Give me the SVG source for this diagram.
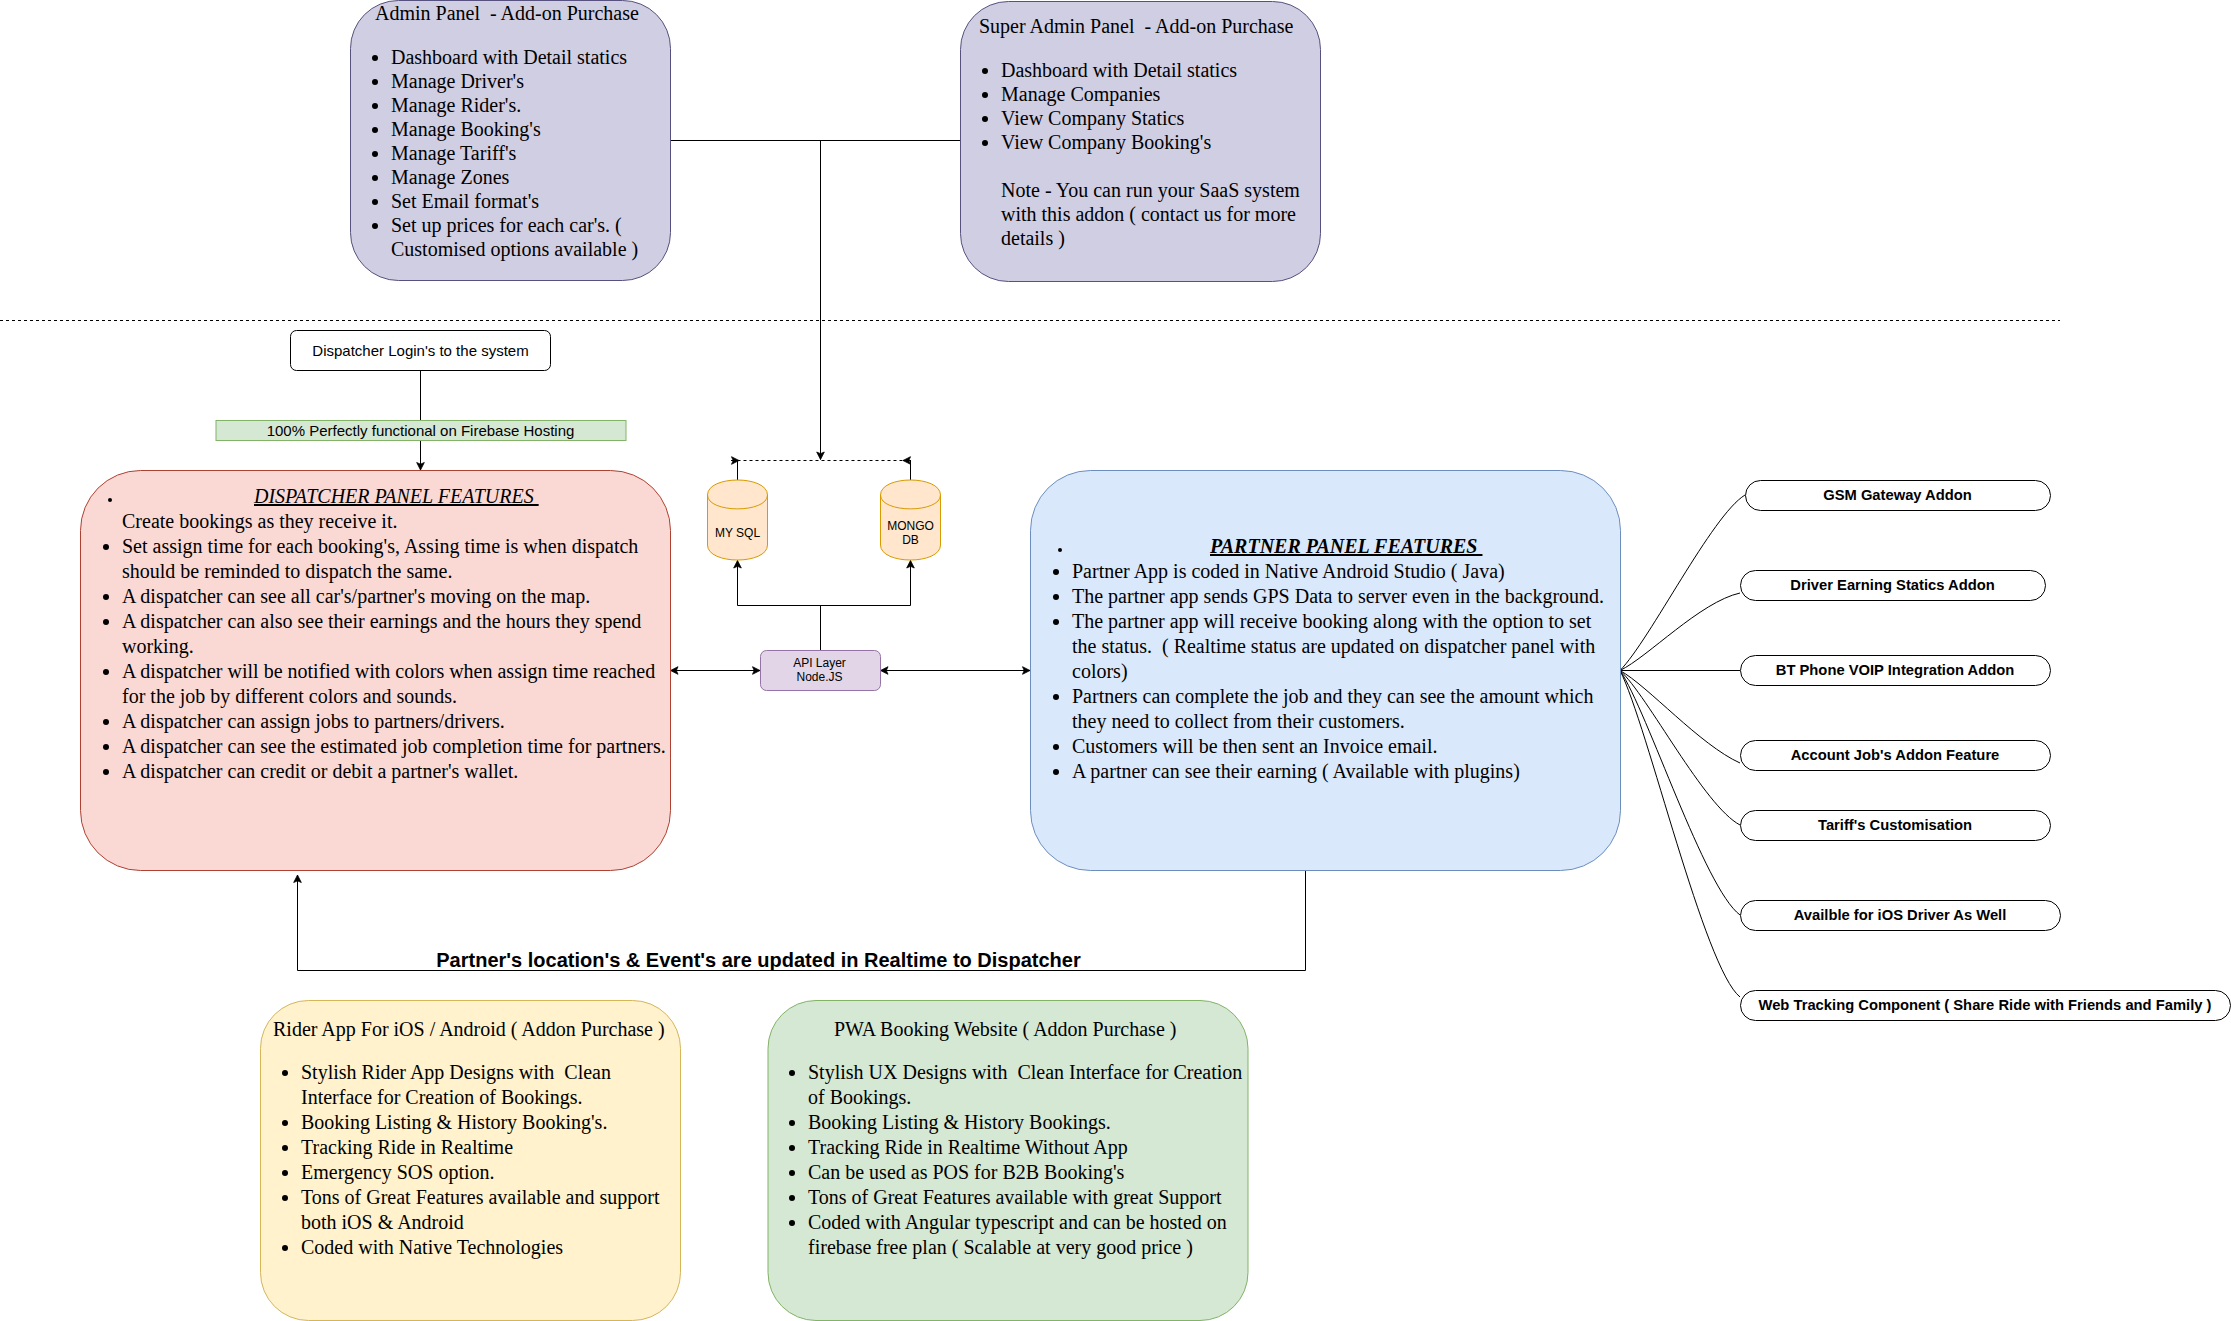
<svg xmlns="http://www.w3.org/2000/svg" width="2231" height="1321" viewBox="0 0 2231 1321">
<style>
text{white-space:pre;fill:#000}
.s{font:20px "Liberation Serif","Times New Roman",serif}
.t{font:italic 20px "Liberation Serif","Times New Roman",serif;text-decoration:underline;text-decoration-thickness:2px}
.h{font:15px "Liberation Sans",Arial,sans-serif;text-anchor:middle}
.m{font:12px "Liberation Sans",Arial,sans-serif;text-anchor:middle}
.b{font:bold 14.75px "Liberation Sans",Arial,sans-serif;text-anchor:middle}
.l{font:bold 20px "Liberation Sans",Arial,sans-serif;text-anchor:middle}
.c{fill:none;stroke:#000;stroke-width:1}
.d{fill:none;stroke:#000;stroke-width:1;stroke-dasharray:3 3}
.a{marker-end:url(#arrow)}
.ab{marker-start:url(#arrowS);marker-end:url(#arrow)}
.p{fill:#fff;stroke:#000;stroke-width:1}
.bu{fill:#000}
</style>
<defs>
<marker id="arrow" markerUnits="userSpaceOnUse" markerWidth="10" markerHeight="10" refX="8" refY="4" orient="auto" overflow="visible"><path d="M0.5 0.2L8 4L0.5 7.8L2.2 4Z" fill="#000" stroke="#000" stroke-width="0.8"/></marker>
<marker id="arrowS" markerUnits="userSpaceOnUse" markerWidth="10" markerHeight="10" refX="0" refY="4" orient="auto" overflow="visible"><path d="M7.5 0.2L0 4L7.5 7.8L5.8 4Z" fill="#000" stroke="#000" stroke-width="0.8"/></marker>
</defs>

<g id="connectors">
<path class="d" d="M0 320.5H2060"/>
<path class="c" d="M670 140.5H960"/>
<path class="c a" d="M820.5 140V459.5"/>
<path class="d" d="M737.5 460.5H910.5"/>
<path class="c" d="M737.5 480V460"/>
<path class="c" d="M910.5 480V460"/>
<path class="c a" d="M731 460.5H739"/>
<path class="c a" d="M911 460.5H903"/>
<path class="c" d="M420.5 370V420"/>
<path class="c a" d="M420.5 440V470"/>
<path class="c" d="M820.5 650V605"/>
<path class="c a" d="M737.5 605.5H737.5V560.5"/>
<path class="c a" d="M737.5 605.5H910.5V560.5"/>
<path class="c ab" d="M670.5 670.5H760"/>
<path class="c ab" d="M880.5 670.5H1030"/>
<path class="c a" d="M1305.5 870V970.5H297.5V875"/>
<path class="c" d="M1620 670.5C1650 640 1712 515 1745 495"/>
<path class="c" d="M1620 670.5C1648 657 1700 602 1740 593"/>
<path class="c" d="M1620 670.5H1740"/>
<path class="c" d="M1620 670.5C1648 686 1700 745 1740 763"/>
<path class="c" d="M1620 670.5C1648 696 1704 806 1740 825"/>
<path class="c" d="M1620 670.5C1648 712 1704 888 1740 915"/>
<path class="c" d="M1620 670.5C1648 726 1704 968 1740 997"/>
</g>

<g id="admin-panel">
<rect x="350.5" y="0.5" width="320" height="280" rx="48" fill="#d0cee2" stroke="#56517e"/>
<text class="s" x="375" y="20">Admin Panel  - Add-on Purchase</text>
<g class="bu"><circle cx="375" cy="58" r="3"/><circle cx="375" cy="82" r="3"/><circle cx="375" cy="106" r="3"/><circle cx="375" cy="130" r="3"/><circle cx="375" cy="154" r="3"/><circle cx="375" cy="178" r="3"/><circle cx="375" cy="202" r="3"/><circle cx="375" cy="226" r="3"/></g>
<text class="s" x="391" y="64">Dashboard with Detail statics</text>
<text class="s" x="391" y="88">Manage Driver's</text>
<text class="s" x="391" y="112">Manage Rider's.</text>
<text class="s" x="391" y="136">Manage Booking's</text>
<text class="s" x="391" y="160">Manage Tariff's</text>
<text class="s" x="391" y="184">Manage Zones</text>
<text class="s" x="391" y="208">Set Email format's</text>
<text class="s" x="391" y="232">Set up prices for each car's. (</text>
<text class="s" x="391" y="256">Customised options available )</text>
</g>

<g id="super-admin-panel">
<rect x="960.5" y="1.5" width="360" height="280" rx="48" fill="#d0cee2" stroke="#56517e"/>
<text class="s" x="979" y="33">Super Admin Panel  - Add-on Purchase</text>
<g class="bu"><circle cx="985" cy="71" r="3"/><circle cx="985" cy="95" r="3"/><circle cx="985" cy="119" r="3"/><circle cx="985" cy="143" r="3"/></g>
<text class="s" x="1001" y="77">Dashboard with Detail statics</text>
<text class="s" x="1001" y="101">Manage Companies</text>
<text class="s" x="1001" y="125">View Company Statics</text>
<text class="s" x="1001" y="149">View Company Booking's</text>
<text class="s" x="1001" y="197">Note - You can run your SaaS system</text>
<text class="s" x="1001" y="221">with this addon ( contact us for more</text>
<text class="s" x="1001" y="245">details )</text>
</g>

<g id="dispatcher-login">
<rect x="290.5" y="330.5" width="260" height="40" rx="6" class="p"/>
<text class="h" x="420.5" y="356">Dispatcher Login's to the system</text>
</g>

<g id="firebase-label">
<rect x="216" y="420.5" width="410" height="20" fill="#d5e8d4" stroke="#82b366"/>
<text class="h" x="420.5" y="436">100% Perfectly functional on Firebase Hosting</text>
</g>

<g id="dispatcher-panel">
<rect x="80.5" y="470.5" width="590" height="400" rx="60" fill="#fad9d5" stroke="#ae4132"/>
<circle class="bu" cx="110" cy="500" r="2"/>
<text class="t" x="254" y="503">DISPATCHER PANEL FEATURES </text>
<g class="bu"><circle cx="106" cy="547" r="3"/><circle cx="106" cy="597" r="3"/><circle cx="106" cy="622" r="3"/><circle cx="106" cy="672" r="3"/><circle cx="106" cy="722" r="3"/><circle cx="106" cy="747" r="3"/><circle cx="106" cy="772" r="3"/></g>
<text class="s" x="122" y="528">Create bookings as they receive it.</text>
<text class="s" x="122" y="553">Set assign time for each booking's, Assing time is when dispatch</text>
<text class="s" x="122" y="578">should be reminded to dispatch the same.</text>
<text class="s" x="122" y="603">A dispatcher can see all car's/partner's moving on the map.</text>
<text class="s" x="122" y="628">A dispatcher can also see their earnings and the hours they spend</text>
<text class="s" x="122" y="653">working.</text>
<text class="s" x="122" y="678">A dispatcher will be notified with colors when assign time reached</text>
<text class="s" x="122" y="703">for the job by different colors and sounds.</text>
<text class="s" x="122" y="728">A dispatcher can assign jobs to partners/drivers.</text>
<text class="s" x="122" y="753">A dispatcher can see the estimated job completion time for partners.</text>
<text class="s" x="122" y="778">A dispatcher can credit or debit a partner's wallet.</text>
</g>

<g id="mysql">
<path d="M707.5 495C707.5 475 767.5 475 767.5 495V545C767.5 565 707.5 565 707.5 545Z" fill="#ffe6cc" stroke="#d79b00"/>
<path d="M707.5 495C707.5 513.5 767.5 513.5 767.5 495" fill="none" stroke="#d79b00"/>
<text class="m" x="737.5" y="537">MY SQL</text>
</g>

<g id="mongodb">
<path d="M880.5 495C880.5 475 940.5 475 940.5 495V545C940.5 565 880.5 565 880.5 545Z" fill="#ffe6cc" stroke="#d79b00"/>
<path d="M880.5 495C880.5 513.5 940.5 513.5 940.5 495" fill="none" stroke="#d79b00"/>
<text class="m" x="910.5" y="530">MONGO</text>
<text class="m" x="910.5" y="544">DB</text>
</g>

<g id="api-layer">
<rect x="760.5" y="650.5" width="120" height="40" rx="6" fill="#e1d5e7" stroke="#9673a6"/>
<text class="m" x="819.5" y="667">API Layer</text>
<text class="m" x="819.5" y="681">Node.JS</text>
</g>

<g id="partner-panel">
<rect x="1030.5" y="470.5" width="590" height="400" rx="60" fill="#dae8fc" stroke="#6c8ebf"/>
<circle class="bu" cx="1060" cy="550" r="2"/>
<text class="t" x="1210" y="553" style="font-weight:bold">PARTNER PANEL FEATURES </text>
<g class="bu"><circle cx="1056" cy="572" r="3"/><circle cx="1056" cy="597" r="3"/><circle cx="1056" cy="622" r="3"/><circle cx="1056" cy="697" r="3"/><circle cx="1056" cy="747" r="3"/><circle cx="1056" cy="772" r="3"/></g>
<text class="s" x="1072" y="578">Partner App is coded in Native Android Studio ( Java)</text>
<text class="s" x="1072" y="603">The partner app sends GPS Data to server even in the background.</text>
<text class="s" x="1072" y="628">The partner app will receive booking along with the option to set</text>
<text class="s" x="1072" y="653">the status.  ( Realtime status are updated on dispatcher panel with</text>
<text class="s" x="1072" y="678">colors)</text>
<text class="s" x="1072" y="703">Partners can complete the job and they can see the amount which</text>
<text class="s" x="1072" y="728">they need to collect from their customers.</text>
<text class="s" x="1072" y="753">Customers will be then sent an Invoice email.</text>
<text class="s" x="1072" y="778">A partner can see their earning ( Available with plugins)</text>
</g>

<g id="addon-gsm"><rect x="1745.5" y="480.5" width="305" height="30" rx="15" class="p"/><text class="b" x="1897.5" y="500">GSM Gateway Addon</text></g>
<g id="addon-driver"><rect x="1740.5" y="570.5" width="305" height="30" rx="15" class="p"/><text class="b" x="1892.5" y="590">Driver Earning Statics Addon</text></g>
<g id="addon-bt"><rect x="1740.5" y="655.5" width="310" height="30" rx="15" class="p"/><text class="b" x="1895" y="675">BT Phone VOIP Integration Addon</text></g>
<g id="addon-account"><rect x="1740.5" y="740.5" width="310" height="30" rx="15" class="p"/><text class="b" x="1895" y="760">Account Job's Addon Feature</text></g>
<g id="addon-tariff"><rect x="1740.5" y="810.5" width="310" height="30" rx="15" class="p"/><text class="b" x="1895" y="830">Tariff's Customisation</text></g>
<g id="addon-ios"><rect x="1740.5" y="900.5" width="320" height="30" rx="15" class="p"/><text class="b" x="1900" y="920">Availble for iOS Driver As Well</text></g>
<g id="addon-web"><rect x="1740.5" y="990.5" width="490" height="30" rx="15" class="p"/><text class="b" x="1985" y="1010">Web Tracking Component ( Share Ride with Friends and Family )</text></g>

<g id="realtime-label">
<text class="l" x="758.5" y="967">Partner's location's &amp; Event's are updated in Realtime to Dispatcher</text>
</g>

<g id="rider-app">
<rect x="260.5" y="1000.5" width="420" height="320" rx="48" fill="#fff2cc" stroke="#d6b656"/>
<text class="s" x="273" y="1035.5">Rider App For iOS / Android ( Addon Purchase )</text>
<g class="bu"><circle cx="285" cy="1073" r="3"/><circle cx="285" cy="1123" r="3"/><circle cx="285" cy="1148" r="3"/><circle cx="285" cy="1173" r="3"/><circle cx="285" cy="1198" r="3"/><circle cx="285" cy="1248" r="3"/></g>
<text class="s" x="301" y="1078.7">Stylish Rider App Designs with  Clean</text>
<text class="s" x="301" y="1103.7">Interface for Creation of Bookings.</text>
<text class="s" x="301" y="1128.7">Booking Listing &amp; History Booking's.</text>
<text class="s" x="301" y="1153.7">Tracking Ride in Realtime</text>
<text class="s" x="301" y="1178.7">Emergency SOS option.</text>
<text class="s" x="301" y="1203.7">Tons of Great Features available and support</text>
<text class="s" x="301" y="1228.7">both iOS &amp; Android</text>
<text class="s" x="301" y="1253.7">Coded with Native Technologies</text>
</g>

<g id="pwa-website">
<rect x="768" y="1000.5" width="480" height="320" rx="48" fill="#d5e8d4" stroke="#82b366"/>
<text class="s" x="834" y="1035.5">PWA Booking Website ( Addon Purchase )</text>
<g class="bu"><circle cx="792" cy="1073" r="3"/><circle cx="792" cy="1123" r="3"/><circle cx="792" cy="1148" r="3"/><circle cx="792" cy="1173" r="3"/><circle cx="792" cy="1198" r="3"/><circle cx="792" cy="1223" r="3"/></g>
<text class="s" x="808" y="1078.7">Stylish UX Designs with  Clean Interface for Creation</text>
<text class="s" x="808" y="1103.7">of Bookings.</text>
<text class="s" x="808" y="1128.7">Booking Listing &amp; History Bookings.</text>
<text class="s" x="808" y="1153.7">Tracking Ride in Realtime Without App</text>
<text class="s" x="808" y="1178.7">Can be used as POS for B2B Booking's</text>
<text class="s" x="808" y="1203.7">Tons of Great Features available with great Support</text>
<text class="s" x="808" y="1228.7">Coded with Angular typescript and can be hosted on</text>
<text class="s" x="808" y="1253.7">firebase free plan ( Scalable at very good price )</text>
</g>
</svg>
